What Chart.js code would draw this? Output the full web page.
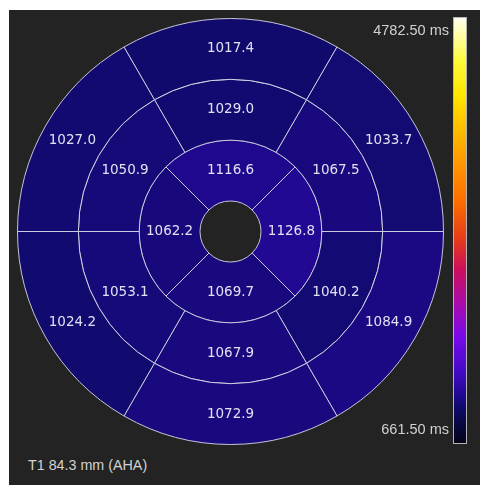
<!DOCTYPE html>
<html>
<head>
<meta charset="utf-8">
<script src="https://cdn.jsdelivr.net/npm/chart.js@4/dist/chart.umd.min.js"></script>
<style>
  html, body { margin: 0; padding: 0; background: #ffffff; width: 480px; height: 485px; overflow: hidden; }
  #panel { position: absolute; left: 9px; top: 10px; width: 471px; height: 475px; background: #232323; }
  #wrap { position: absolute; left: 17px; top: 18px; width: 427px; height: 427px; }
  #bar { position: absolute; left: 453px; top: 17px; width: 12px; height: 425px; border: 1px solid #b4b4b4; }
  .lbl { position: absolute; font-family: "Liberation Sans", Arial, sans-serif; font-size: 14.5px; color: #d2d2d2; white-space: nowrap; line-height: 1; }
  #maxLbl { right: 31px; top: 23px; }
  #minLbl { right: 31px; top: 422px; }
  #caption { left: 28px; top: 458px; font-size: 14.3px; }
</style>
</head>
<body>
<div id="panel"></div>
<div id="wrap"><canvas id="bullseye"></canvas></div>
<div id="bar"></div>
<div class="lbl" id="maxLbl"></div>
<div class="lbl" id="minLbl"></div>
<div class="lbl" id="caption">T1 84.3 mm (AHA)</div>
<script>
// AHA segment T1 values (ms), listed clockwise starting from the top segment of each ring
const basalT1 = [1017.4, 1033.7, 1084.9, 1072.9, 1024.2, 1027.0];
const midT1 = [1029.0, 1067.5, 1040.2, 1067.9, 1053.1, 1050.9];
const apicalT1 = [1116.6, 1126.8, 1069.7, 1062.2];

// colour scale limits (ms)
const scaleMin = 661.5;
const scaleMax = 4782.5;
const scaleUnit = 'ms';
const captionText = 'T1 84.3 mm (AHA)';

// T1 colour map: dark navy -> blue -> violet -> magenta -> red -> orange -> yellow -> white
const mapStops = [
  [0.00, 4, 4, 26],
  [0.04, 8, 8, 62],
  [0.086, 16, 10, 108],
  [0.113, 34, 8, 146],
  [0.17, 70, 10, 200],
  [0.25, 120, 10, 235],
  [0.33, 170, 12, 170],
  [0.41, 205, 15, 90],
  [0.48, 230, 60, 25],
  [0.57, 255, 110, 0],
  [0.70, 255, 170, 0],
  [0.82, 255, 230, 0],
  [0.90, 255, 250, 60],
  [1.00, 255, 255, 240]
];

function colourAt(v) {
  let f = (v - scaleMin) / (scaleMax - scaleMin);
  f = Math.max(0, Math.min(1, f));
  for (let i = 1; i < mapStops.length; i++) {
    const a = mapStops[i - 1], b = mapStops[i];
    if (f <= b[0]) {
      const t = (f - a[0]) / (b[0] - a[0]);
      const c = [1, 2, 3].map(k => Math.round(a[k] + (b[k] - a[k]) * t));
      return `rgb(${c[0]},${c[1]},${c[2]})`;
    }
  }
  const l = mapStops[mapStops.length - 1];
  return `rgb(${l[1]},${l[2]},${l[3]})`;
}

// colour bar and its limit labels
document.getElementById('bar').style.background =
  'linear-gradient(to top, ' +
  mapStops.map(s => `rgb(${s[1]},${s[2]},${s[3]}) ${(s[0] * 100).toFixed(1)}%`).join(', ') + ')';
document.getElementById('maxLbl').textContent = scaleMax.toFixed(2) + ' ' + scaleUnit;
document.getElementById('minLbl').textContent = scaleMin.toFixed(2) + ' ' + scaleUnit;
document.getElementById('caption').textContent = captionText;

// every segment in a ring spans the same angle; the T1 value drives colour and label
function ring(values, rotation) {
  return {
    data: values.map(() => 1),
    t1: values,
    backgroundColor: values.map(colourAt),
    borderColor: 'rgba(215,215,232,0.9)',
    borderWidth: 1,
    rotation: rotation,
    hoverOffset: 0
  };
}

// writes each segment's T1 value at the middle of its arc
const segmentValues = {
  id: 'segmentValues',
  afterDatasetsDraw(chart) {
    const ctx = chart.ctx;
    ctx.save();
    ctx.font = '13.5px "DejaVu Sans", sans-serif';
    ctx.fillStyle = 'rgba(236,236,250,0.95)';
    ctx.textAlign = 'center';
    ctx.textBaseline = 'middle';
    chart.data.datasets.forEach((ds, di) => {
      chart.getDatasetMeta(di).data.forEach((arc, i) => {
        const p = arc.getCenterPoint();
        ctx.fillText(ds.t1[i].toFixed(1), p.x, p.y);
      });
    });
    ctx.restore();
  }
};

new Chart(document.getElementById('bullseye'), {
  type: 'doughnut',
  data: {
    datasets: [
      ring(basalT1, -30),
      ring(midT1, -30),
      ring(apicalT1, -45)
    ]
  },
  options: {
    responsive: true,
    maintainAspectRatio: false,
    animation: false,
    cutout: 30.5,
    layout: { padding: 0 },
    events: [],
    plugins: {
      legend: { display: false },
      tooltip: { enabled: false }
    }
  },
  plugins: [segmentValues]
});
</script>
</body>
</html>
